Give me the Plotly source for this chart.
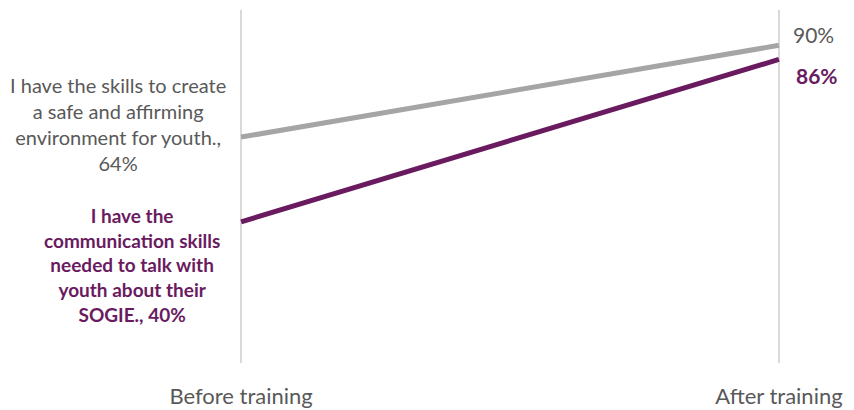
import plotly.graph_objects as go

stages = ["Before training", "After training"]
skills_safe = [64, 90]
skills_comm = [40, 86]
label_safe = "I have the skills to create<br>a safe and affirming<br>environment for youth.,<br>64%"
label_comm = "I have the<br>communication skills<br>needed to talk with<br>youth about their<br>SOGIE., 40%"

GRAY = "#A5A5A5"
PURPLE = "#6A1B5F"
TEXT = "#595959"
FONT = "Lato"

x = [0, 1]
fig = go.Figure()
fig.add_trace(go.Scatter(x=x, y=skills_safe, mode="lines",
                         line=dict(color=GRAY, width=5), hoverinfo="skip"))
fig.add_trace(go.Scatter(x=x, y=skills_comm, mode="lines",
                         line=dict(color=PURPLE, width=5), hoverinfo="skip"))

fig.add_annotation(x=0, y=skills_safe[0], text=label_safe, showarrow=False,
                   xanchor="right", yanchor="middle", align="center",
                   xshift=-13, yshift=13,
                   font=dict(family=FONT, size=20, color=TEXT))
fig.add_annotation(x=0, y=skills_comm[0], text="<b>" + label_comm + "</b>", showarrow=False,
                   xanchor="right", yanchor="middle", align="center",
                   xshift=-19, yshift=-43,
                   font=dict(family=FONT, size=19, color=PURPLE))
fig.add_annotation(x=1, y=skills_safe[1], text=f"{skills_safe[1]}%", showarrow=False,
                   xanchor="left", yanchor="middle", xshift=12, yshift=11,
                   font=dict(family=FONT, size=21, color=TEXT))
fig.add_annotation(x=1, y=skills_comm[1], text=f"<b>{skills_comm[1]}%</b>", showarrow=False,
                   xanchor="left", yanchor="middle", xshift=15, yshift=-16,
                   font=dict(family=FONT, size=21, color=PURPLE))

fig.update_layout(
    width=854, height=410,
    margin=dict(l=240, r=74, t=10, b=47, autoexpand=False),
    paper_bgcolor="white", plot_bgcolor="white",
    showlegend=False,
    xaxis=dict(range=[-0.002, 1.002], tickvals=x, ticktext=stages,
               showgrid=True, gridcolor="#D9D9D9", gridwidth=2,
               zeroline=False, showline=False, ticks="", automargin=False,
               ticklabelstandoff=18,
               tickfont=dict(family=FONT, size=22, color=TEXT)),
    yaxis=dict(range=[0, 100], showgrid=False, zeroline=False, automargin=False,
               showline=False, showticklabels=False, ticks=""),
)

fig.write_html("out.html", config={"displayModeBar": False},
               post_script="document.body.style.margin='0px';")
